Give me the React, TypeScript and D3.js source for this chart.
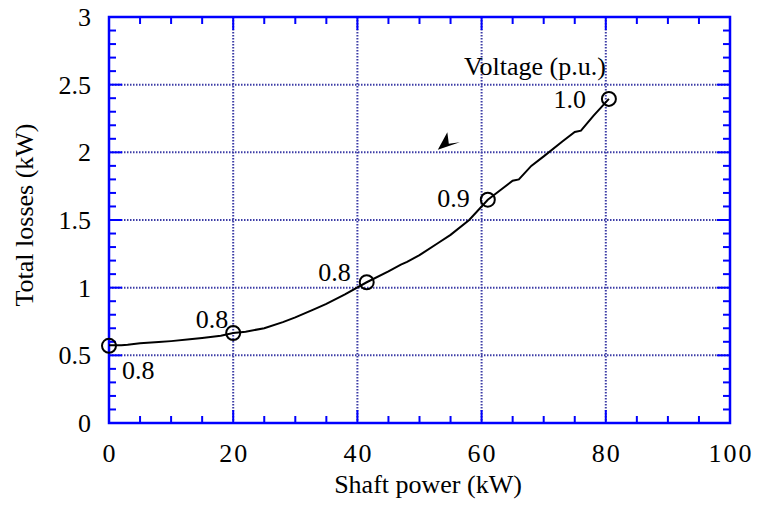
import React from "react";
import * as d3 from "d3";

const curveX = [0, 2, 3, 5, 8, 10, 13, 15, 18, 20, 22, 25, 28, 30, 33, 35, 38, 41.5, 45, 47, 48, 50, 53, 55, 58, 61, 63, 65, 66, 68, 70, 73, 75, 76, 78, 80.5];
const curveY = [0.575, 0.575, 0.578, 0.59, 0.598, 0.605, 0.618, 0.628, 0.645, 0.665, 0.675, 0.7, 0.745, 0.78, 0.84, 0.88, 0.95, 1.04, 1.12, 1.17, 1.19, 1.24, 1.33, 1.39, 1.5, 1.65, 1.72, 1.79, 1.8, 1.9, 1.97, 2.08, 2.15, 2.16, 2.27, 2.395];
const markerX = [0, 20, 41.5, 61, 80.5];
const markerY = [0.57, 0.665, 1.04, 1.65, 2.395];
const voltageLabels = ["0.8", "0.8", "0.8", "0.9", "1.0"];
const xTicks = [0, 20, 40, 60, 80, 100];
const yTicks = [0, 0.5, 1, 1.5, 2, 2.5, 3];

const W = 758, H = 506;
const L = 109, R = 730, T = 17, B = 423;
const FONT = "Liberation Serif";

export default function App() {
  const x = d3.scaleLinear().domain([0, 100]).range([L, R]);
  const y = d3.scaleLinear().domain([0, 3]).range([B, T]);
  const line = d3.line<number>().x((_, i) => x(curveX[i])).y((d) => y(d));
  const minorX = d3.range(0, 100.01, 5).filter((v) => v % 20 !== 0);
  const minorY = d3.range(0, 30.01, 1).map((v) => v / 10).filter((v) => Math.round(v * 10) % 5 !== 0);
  const grid = "#3c3ca6";
  const blue = "#0000ff";
  const ts = { fontFamily: FONT };
  const labelDx = [13, -5, -16, -18, -23];
  const labelDy = [33, -5, -1, 7, 9];
  const labelAnchor = ["start", "end", "end", "end", "end"];
  const ax = x(52.95), ay = y(2.02);
  return (
    <svg width={W} height={H} style={{ position: "absolute", left: 0, top: 0 }}>
      <rect width={W} height={H} fill="#fff" />
      {[20, 40, 60, 80].map((v) => (
        <line key={"gx" + v} x1={x(v)} x2={x(v)} y1={T} y2={B} stroke={grid} strokeWidth={2} strokeDasharray="1.5 1.5" />
      ))}
      {[0.5, 1, 1.5, 2, 2.5].map((v) => (
        <line key={"gy" + v} x1={L} x2={R} y1={y(v)} y2={y(v)} stroke={grid} strokeWidth={2} strokeDasharray="1.5 1.5" />
      ))}
      {minorX.map((v) => (
        <g key={"mx" + v}>
          <line x1={x(v)} x2={x(v)} y1={B} y2={B - 7} stroke={blue} strokeWidth={2} />
          <line x1={x(v)} x2={x(v)} y1={T} y2={T + 7} stroke={blue} strokeWidth={2} />
        </g>
      ))}
      {[20, 40, 60, 80].map((v) => (
        <g key={"Mx" + v}>
          <line x1={x(v)} x2={x(v)} y1={B} y2={B - 13} stroke={blue} strokeWidth={2} />
          <line x1={x(v)} x2={x(v)} y1={T} y2={T + 13} stroke={blue} strokeWidth={2} />
        </g>
      ))}
      {minorY.map((v) => (
        <g key={"my" + v}>
          <line x1={L} x2={L + 7} y1={y(v)} y2={y(v)} stroke={blue} strokeWidth={2} />
          <line x1={R} x2={R - 7} y1={y(v)} y2={y(v)} stroke={blue} strokeWidth={2} />
        </g>
      ))}
      {[0.5, 1, 1.5, 2, 2.5].map((v) => (
        <g key={"My" + v}>
          <line x1={L} x2={L + 13} y1={y(v)} y2={y(v)} stroke={blue} strokeWidth={2} />
          <line x1={R} x2={R - 13} y1={y(v)} y2={y(v)} stroke={blue} strokeWidth={2} />
        </g>
      ))}
      <rect x={L} y={T} width={R - L} height={B - T} fill="none" stroke={blue} strokeWidth={2.5} />
      {xTicks.map((v) => (
        <text key={"tx" + v} x={x(v) + 1} y={462} textAnchor="middle" fontSize={26} letterSpacing={2} style={ts} fill="#000">{v}</text>
      ))}
      {yTicks.map((v) => (
        <text key={"ty" + v} x={91} y={y(v) + 9} textAnchor="end" fontSize={26} style={ts} fill="#000">{v}</text>
      ))}
      <text x={428} y={493} textAnchor="middle" fontSize={26} style={ts} fill="#000">Shaft power  (kW)</text>
      <text transform={`translate(33,215) rotate(-90)`} textAnchor="middle" fontSize={26} style={ts} fill="#000">Total losses  (kW)</text>
      <path d={line(curveY) || ""} fill="none" stroke="#000" strokeWidth={2} />
      {markerX.map((v, i) => (
        <circle key={"c" + i} cx={x(v)} cy={y(markerY[i])} r={7} fill="none" stroke="#000" strokeWidth={2} />
      ))}
      {markerX.map((v, i) => (
        <text key={"l" + i} x={x(v) + labelDx[i]} y={y(markerY[i]) + labelDy[i]} textAnchor={labelAnchor[i]} fontSize={26} style={ts} fill="#000">{voltageLabels[i]}</text>
      ))}
      <text x={535} y={75} textAnchor="middle" fontSize={26} style={ts} fill="#000">Voltage (p.u.)</text>
      <path d={`M${ax},${ay} L${ax + 9.5},${ay - 17.5} L${ax + 11},${ay - 6} L${ax + 22},${ay - 7.5} Z`} fill="#000" />
    </svg>
  );
}
